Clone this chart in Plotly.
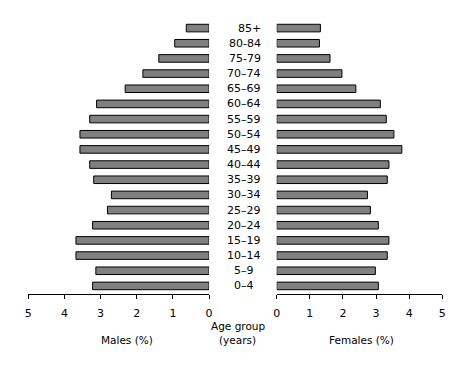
import plotly.graph_objects as go

# Age groups, youngest to oldest
age_groups = ["0\u20134", "5\u20139", "10\u201314", "15\u201319", "20\u201324", "25\u201329",
              "30\u201334", "35\u201339", "40\u201344", "45\u201349", "50\u201354", "55\u201359",
              "60\u201364", "65\u201369", "70\u201374", "75-79", "80-84", "85+"]
age_labels = ["0\u20134\u00a0\u00a0", "5\u20139\u00a0\u00a0", "10\u201314", "15\u201319",
              "20\u201324", "25\u201329", "30\u201334", "35\u201339", "40\u201344", "45\u201349",
              "50\u201354", "55\u201359", "60\u201364", "65\u201369", "70\u201374", "75-79",
              "80-84", "85+"]

males = [3.22, 3.13, 3.68, 3.68, 3.22, 2.81, 2.70, 3.19, 3.30, 3.57, 3.57, 3.30,
         3.11, 2.32, 1.83, 1.39, 0.95, 0.63]
females = [3.07, 2.98, 3.34, 3.39, 3.07, 2.83, 2.74, 3.34, 3.39, 3.78, 3.54, 3.31,
           3.13, 2.39, 1.97, 1.61, 1.29, 1.32]

tick_vals = [0, 1, 2, 3, 4, 5]
tick_text = ["0", "1", "2", "3", "4", "5"]

W, H = 469, 366
OFF = 8  # page body margin
FONT = "DejaVu Sans"


def px(x):
    return (x - OFF) / W


def py(y):
    return (H - (y - OFF)) / H


fig = go.Figure()
bar_style = dict(color="#808080", line=dict(color="black", width=1))
fig.add_trace(go.Bar(x=males, y=age_groups, orientation="h", marker=bar_style,
                     xaxis="x", yaxis="y", showlegend=False))
fig.add_trace(go.Bar(x=females, y=age_groups, orientation="h", marker=bar_style,
                     xaxis="x2", yaxis="y2", showlegend=False))

xcommon = dict(showline=True, linecolor="black", linewidth=1, ticks="outside",
               ticklen=4, tickcolor="black", tickwidth=1, tickvals=tick_vals,
               ticktext=tick_text, showgrid=False, zeroline=False, fixedrange=True,
               ticklabelstandoff=5,
               tickfont=dict(family=FONT, size=11, color="black"))
ycommon = dict(showgrid=False, zeroline=False, showticklabels=False, showline=False,
               ticks="", type="category", categoryorder="array",
               categoryarray=age_groups, range=[-0.5, 17.5])

ydom = [py(293.5), py(20.5)]
fig.update_layout(
    width=W, height=H,
    margin=dict(l=0, r=0, t=0, b=0),
    paper_bgcolor="white", plot_bgcolor="white",
    bargap=0.5,
    font=dict(family=FONT, size=10.5, color="black"),
    xaxis=dict(domain=[px(24.5), px(208.5)], range=[5, 0], anchor="y", **xcommon),
    xaxis2=dict(domain=[px(277.3), px(445.7)], range=[0, 5], anchor="y2", **xcommon),
    yaxis=dict(domain=ydom, anchor="x", **ycommon),
    yaxis2=dict(domain=ydom, anchor="x2", matches="y", **ycommon),
)

annotations = []
for cat, lab in zip(age_groups, age_labels):
    annotations.append(dict(x=px(263.5), xref="paper", y=cat, yref="y", text=lab,
                            xanchor="right", yanchor="middle", showarrow=False,
                            font=dict(family=FONT, size=11, color="black")))
annotations += [
    dict(x=px(124.5), y=py(340), xref="paper", yref="paper", text="Males (%)",
         showarrow=False, xanchor="center", yanchor="middle"),
    dict(x=px(364), y=py(340), xref="paper", yref="paper", text="Females (%)",
         showarrow=False, xanchor="center", yanchor="middle"),
    dict(x=px(237.5), y=py(326), xref="paper", yref="paper", text="Age group",
         showarrow=False, xanchor="center", yanchor="middle"),
    dict(x=px(237.5), y=py(339.5), xref="paper", yref="paper", text="(years)",
         showarrow=False, xanchor="center", yanchor="middle"),
]
fig.update_layout(annotations=annotations)

fig.write_html("out.html")
